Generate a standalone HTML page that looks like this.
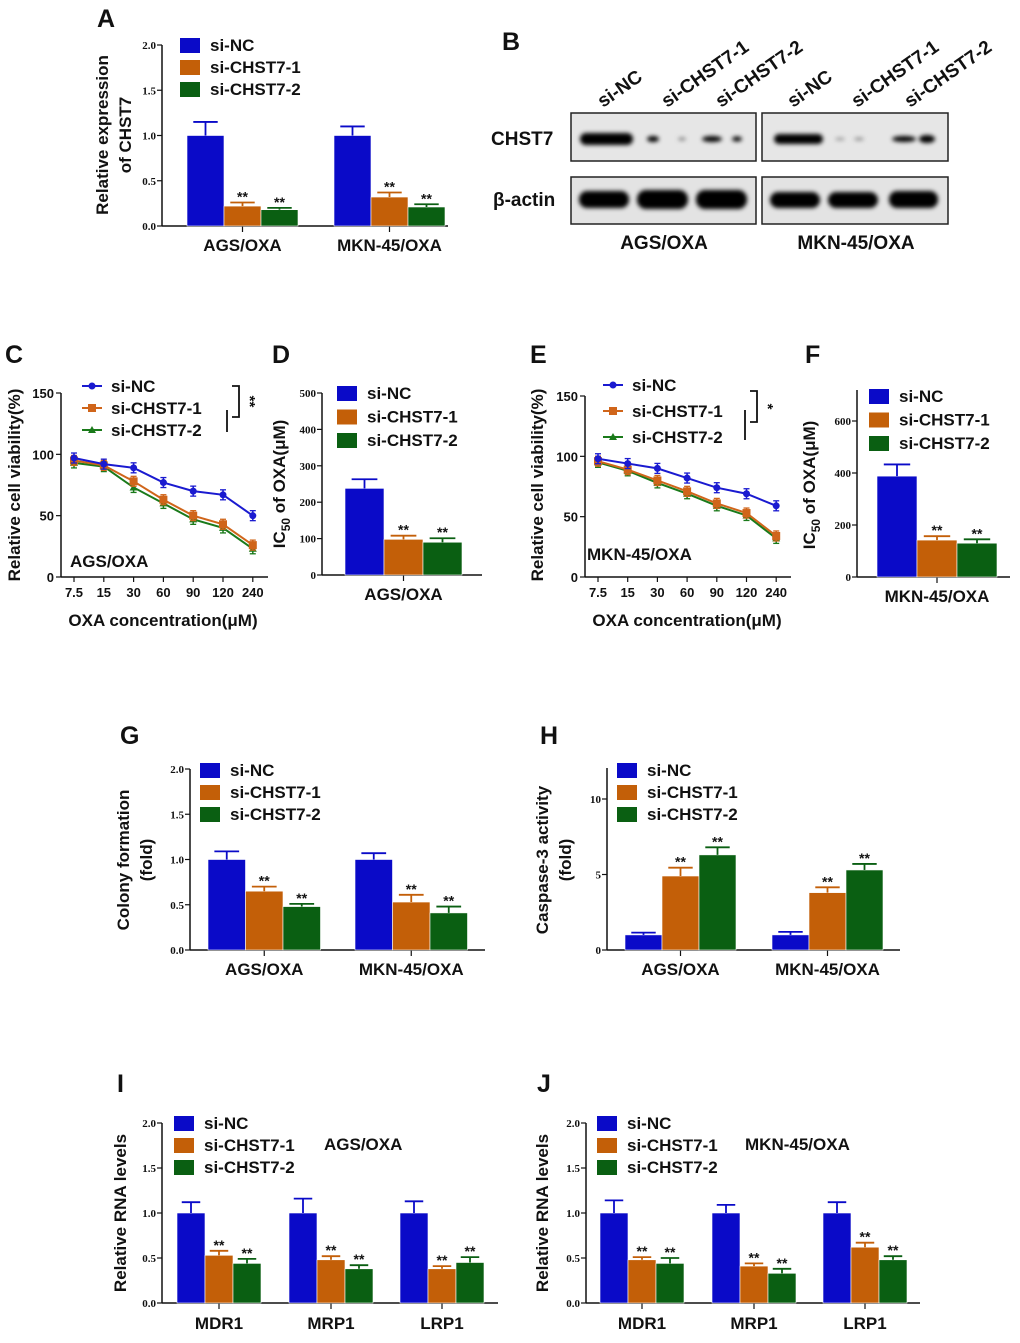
<!DOCTYPE html>
<html><head><meta charset="utf-8">
<style>
html,body{margin:0;padding:0;background:#fff;}
svg{display:block;}
text{font-family:"Liberation Sans",Arial,sans-serif;font-weight:bold;fill:#111;}
.tick{font-family:"Liberation Serif",serif;}
</style></head>
<body>
<svg id="fig" width="1020" height="1343" viewBox="0 0 1020 1343" xmlns="http://www.w3.org/2000/svg">
<defs>
<filter id="blur" x="-20%" y="-60%" width="140%" height="220%"><feGaussianBlur stdDeviation="2.2"/></filter>
</defs>
<g id="static">
<text x="97" y="27" font-size="25">A</text>
<text x="502" y="50" font-size="25">B</text>
<text x="5" y="363" font-size="25">C</text>
<text x="272" y="363" font-size="25">D</text>
<text x="530" y="363" font-size="25">E</text>
<text x="805" y="363" font-size="25">F</text>
<text x="120" y="744" font-size="25">G</text>
<text x="540" y="744" font-size="25">H</text>
<text x="117" y="1092" font-size="25">I</text>
<text x="537" y="1092" font-size="25">J</text>

<g>
<text transform="translate(603,108) rotate(-35)" font-size="19">si-NC</text>
<text transform="translate(667,108) rotate(-35)" font-size="19">si-CHST7-1</text>
<text transform="translate(721,108) rotate(-35)" font-size="19">si-CHST7-2</text>
<text transform="translate(793,108) rotate(-35)" font-size="19">si-NC</text>
<text transform="translate(857,108) rotate(-35)" font-size="19">si-CHST7-1</text>
<text transform="translate(910,108) rotate(-35)" font-size="19">si-CHST7-2</text>
<text x="491" y="145" font-size="19">CHST7</text>
<text x="493" y="206" font-size="19">β-actin</text>
<rect x="571" y="113" width="185" height="48" fill="#e6e6e6" stroke="#222" stroke-width="1.5"/>
<rect x="762" y="113" width="186" height="48" fill="#e6e6e6" stroke="#222" stroke-width="1.5"/>
<rect x="571" y="177" width="185" height="47" fill="#e3e3e3" stroke="#222" stroke-width="1.5"/>
<rect x="762" y="177" width="186" height="47" fill="#e3e3e3" stroke="#222" stroke-width="1.5"/>
<g filter="url(#blur)" fill="#000">
<rect x="580" y="133" width="53" height="12" rx="6"/>
<ellipse cx="653" cy="139" rx="6" ry="3"/>
<ellipse cx="682" cy="139" rx="4" ry="1.5" fill="#777"/>
<ellipse cx="712" cy="139" rx="10" ry="3"/>
<ellipse cx="737" cy="139" rx="5" ry="2.5"/>
<rect x="774" y="134" width="49" height="10" rx="5"/>
<ellipse cx="840" cy="139" rx="5" ry="1.5" fill="#999"/>
<ellipse cx="859" cy="139" rx="5" ry="1.5" fill="#888"/>
<ellipse cx="904" cy="139" rx="12" ry="3"/>
<ellipse cx="927" cy="139" rx="8" ry="4"/>
<rect x="579" y="191" width="50" height="17" rx="8"/>
<rect x="637" y="190" width="51" height="19" rx="9"/>
<rect x="696" y="190" width="51" height="19" rx="9"/>
<rect x="770" y="192" width="50" height="16" rx="8"/>
<rect x="828" y="192" width="50" height="16" rx="8"/>
<rect x="889" y="191" width="49" height="17" rx="8"/>
</g>
<text x="664" y="249" font-size="19" text-anchor="middle">AGS/OXA</text>
<text x="856" y="249" font-size="19" text-anchor="middle">MKN-45/OXA</text>
</g>
</g>
<g id="charts"></g>
</svg>
<script>
const seriesNames = ['si-NC','si-CHST7-1','si-CHST7-2'];
const barColors = ['#0a0ac8','#c35f08','#0a5f12'];

const aCats = ['AGS/OXA','MKN-45/OXA'];
const aNC = [1.0,1.0], aS1 = [0.22,0.32], aS2 = [0.18,0.21];
const aErrNC = [0.15,0.10], aErrS1 = [0.04,0.05], aErrS2 = [0.02,0.03];
const aTicks = [0,0.5,1.0,1.5,2.0], aTickLabels = ['0.0','0.5','1.0','1.5','2.0'];

const dCats = ['AGS/OXA'];
const dNC = [238], dS1 = [98], dS2 = [90];
const dErrNC = [25], dErrS1 = [10], dErrS2 = [11];
const dTicks = [0,100,200,300,400,500], dTickLabels = ['0','100','200','300','400','500'];

const fCats = ['MKN-45/OXA'];
const fNC = [388], fS1 = [142], fS2 = [130];
const fErrNC = [45], fErrS1 = [15], fErrS2 = [15];
const fTicks = [0,200,400,600], fTickLabels = ['0','200','400','600'];

const gCats = ['AGS/OXA','MKN-45/OXA'];
const gNC = [1.0,1.0], gS1 = [0.65,0.53], gS2 = [0.48,0.41];
const gErrNC = [0.09,0.07], gErrS1 = [0.05,0.08], gErrS2 = [0.03,0.07];

const hCats = ['AGS/OXA','MKN-45/OXA'];
const hNC = [1.0,1.0], hS1 = [4.9,3.8], hS2 = [6.3,5.3];
const hErrNC = [0.15,0.2], hErrS1 = [0.55,0.35], hErrS2 = [0.5,0.4];
const hTicks = [0,5,10], hTickLabels = ['0','5','10'];

const iCats = ['MDR1','MRP1','LRP1'];
const iNC = [1.0,1.0,1.0], iS1 = [0.53,0.48,0.38], iS2 = [0.44,0.38,0.45];
const iErrNC = [0.12,0.16,0.13], iErrS1 = [0.05,0.04,0.03], iErrS2 = [0.05,0.04,0.06];

const jCats = ['MDR1','MRP1','LRP1'];
const jNC = [1.0,1.0,1.0], jS1 = [0.48,0.41,0.62], jS2 = [0.44,0.33,0.48];
const jErrNC = [0.14,0.09,0.12], jErrS1 = [0.03,0.03,0.05], jErrS2 = [0.06,0.05,0.04];

const lineCats = ['7.5','15','30','60','90','120','240'];
const cNC = [97,92,89,77,70,67,50];
const cS1 = [95,91,78,63,50,43,26];
const cS2 = [93,90,73,60,47,40,23];
const eNC = [98,94,90,82,74,69,59];
const eS1 = [96,89,80,71,61,53,34];
const eS2 = [95,88,78,69,59,51,32];
const lineTicks = [0,50,100,150], lineTickLabels = ['0','50','100','150'];

const NS = 'http://www.w3.org/2000/svg';
const root = document.getElementById('charts');
function mk(tag, attrs, parent){
  const e = document.createElementNS(NS, tag);
  for (const k in attrs) e.setAttribute(k, attrs[k]);
  (parent||root).appendChild(e);
  return e;
}
function txt(parent, x, y, s, size, anchor, extra){
  const t = mk('text', Object.assign({x:x, y:y, 'font-size':size, 'text-anchor':anchor||'start'}, extra||{}), parent);
  t.textContent = s;
  return t;
}

function barChart(o){
  const g = mk('g', {});
  
  
  const yS = v => o.y0 - (v / o.vmax) * (o.y0 - o.yTopVal);
  const ya = mk('line', {x1:o.ax, y1:o.y0, x2:o.ax, y2:o.axTop, stroke:'#111', 'stroke-width':1.5}, g);
  
  
  const xa = mk('line', {x1:o.ax, y1:o.y0, x2:o.xEnd, y2:o.y0, stroke:'#111', 'stroke-width':1.5}, g);
  
  
  o.ticks.forEach((v,i) => {
    const y = yS(v);
    mk('line', {x1:o.ax-5, y1:y, x2:o.ax, y2:y, stroke:'#111', 'stroke-width':1.2}, g);
    const t = txt(g, o.ax-6, y+4, o.tickLabels[i], 11, 'end', {class:'tick'});
    
    
  });
  o.cats.forEach((c, ci) => {
    const x0 = o.starts[ci];
    const cx = x0 + o.bw * 1.5;
    mk('line', {x1:cx, y1:o.y0, x2:cx, y2:o.y0+6, stroke:'#111', 'stroke-width':1.2}, g);
    const t = txt(g, cx, o.y0 + o.catDy, c, 17, 'middle');
    
    
    o.series.forEach((s, si) => {
      const v = s[ci], e = o.errs[si][ci];
      const bx = x0 + si * o.bw;
      const r = mk('rect', {x:bx, y:yS(v), width:o.bw, height:o.y0 - yS(v), fill:barColors[si], stroke:'#fff', 'stroke-width':0.6}, g);
      
      
      const bcx = bx + o.bw/2, ye = yS(v + e);
      mk('line', {x1:bcx, y1:yS(v), x2:bcx, y2:ye, stroke:barColors[si], 'stroke-width':1.8}, g);
      mk('line', {x1:bcx - o.bw*0.33, y1:ye, x2:bcx + o.bw*0.33, y2:ye, stroke:barColors[si], 'stroke-width':1.8}, g);
      if (si > 0) {
        const st = txt(g, bcx, ye - 1, '**', 14, 'middle');
        
        
      }
    });
  });
  seriesNames.forEach((n, si) => {
    const ly = o.legY + si * o.legDy;
    const r = mk('rect', {x:o.legX, y:ly - 7, width:20, height:15, fill:barColors[si]}, g);
    
    
    const t = txt(g, o.legX + 30, ly + 6, n, 17, 'start');
    
    
  });
  o.yTitle.forEach((line, li) => {
    const t = txt(g, 0, 0, '', 17, 'middle', {transform:'translate(' + (o.yTitleX + li*23) + ',' + o.yTitleY + ') rotate(-90)'});
    if (line === 'IC50') {
      t.appendChild(document.createTextNode('IC'));
      const ts = mk('tspan', {'font-size':12, dy:5}, t); ts.textContent = '50';
      const ts2 = mk('tspan', {dy:-5}, t); ts2.textContent = ' of OXA(μM)';
    } else t.textContent = line;
    
    
  });
  return g;
}

function lineChart(o){
  const g = mk('g', {});
  
  
  const yS = v => o.y0 - (v / 150) * (o.y0 - o.y150);
  const xS = i => o.x0 + i * o.dx;
  const ya = mk('line', {x1:o.ax, y1:o.y0, x2:o.ax, y2:o.y150, stroke:'#111', 'stroke-width':1.5}, g);
  
  
  const xa = mk('line', {x1:o.ax, y1:o.y0, x2:o.xEnd, y2:o.y0, stroke:'#111', 'stroke-width':1.5}, g);
  
  
  lineTicks.forEach((v,i) => {
    const y = yS(v);
    mk('line', {x1:o.ax-5, y1:y, x2:o.ax, y2:y, stroke:'#111', 'stroke-width':1.2}, g);
    const t = txt(g, o.ax-7, y+5, lineTickLabels[i], 13, 'end');
    
    
  });
  lineCats.forEach((c,i) => {
    const x = xS(i);
    mk('line', {x1:x, y1:o.y0, x2:x, y2:o.y0+5, stroke:'#111', 'stroke-width':1.2}, g);
    const t = txt(g, x, o.y0 + 20, c, 13, 'middle');
    
    
  });
  const cols = ['#1a1ad0','#d0651a','#1a7a1a'];
  function marker(si, x, y, par){
    let m;
    if (si === 0) m = mk('circle', {cx:x, cy:y, r:3.5, fill:cols[0]}, par);
    else if (si === 1) m = mk('rect', {x:x-4, y:y-4, width:8, height:8, fill:cols[1]}, par);
    else m = mk('polygon', {points:(x)+','+(y-4)+' '+(x+4)+','+(y+3)+' '+(x-4)+','+(y+3), fill:cols[2]}, par);
    return m;
  }
  o.series.slice().reverse().forEach((s, ri) => {
    const si = 2 - ri;
    const pts = s.map((v,i) => xS(i) + ',' + yS(v)).join(' ');
    const pl = mk('polyline', {points:pts, fill:'none', stroke:cols[si], 'stroke-width':2}, g);
    
    
    s.forEach((v,i) => {
      const x = xS(i), y = yS(v);
      mk('line', {x1:x, y1:y-5, x2:x, y2:y+5, stroke:cols[si], 'stroke-width':1.5}, g);
      mk('line', {x1:x-3, y1:y-5, x2:x+3, y2:y-5, stroke:cols[si], 'stroke-width':1.3}, g);
      mk('line', {x1:x-3, y1:y+5, x2:x+3, y2:y+5, stroke:cols[si], 'stroke-width':1.3}, g);
      const m = marker(si, x, y, g);
      
      
    });
  });
  seriesNames.forEach((n, si) => {
    const ly = o.legY[si];
    mk('line', {x1:o.legX, y1:ly, x2:o.legX+20, y2:ly, stroke:cols[si], 'stroke-width':2}, g);
    marker(si, o.legX+10, ly, g);
    const t = txt(g, o.legX + 29, ly + 6, n, 17, 'start');
    
    
  });
  const b = o.br;
  mk('polyline', {points:(b.x-7)+','+b.y1+' '+b.x+','+b.y1+' '+b.x+','+b.y2+' '+(b.x-7)+','+b.y2, fill:'none', stroke:'#111', 'stroke-width':1.8}, g);
  mk('line', {x1:b.x-12, y1:b.y3, x2:b.x-12, y2:b.y4, stroke:'#111', 'stroke-width':1.8}, g);
  const st = txt(g, 0, 0, b.mark, 15, 'middle', {transform:'translate(' + (b.x+6) + ',' + ((b.y1+b.y2)/2) + ') rotate(90)'});
  
  
  const inl = txt(g, o.inX, o.inY, o.inLabel, 17, 'start');
  
  
  const xt = txt(g, o.xTitleX, o.y0 + 49, 'OXA concentration(μM)', 17, 'middle');
  
  
  const yt = txt(g, 0, 0, 'Relative cell viability(%)', 17, 'middle', {transform:'translate(' + o.yTitleX + ',485) rotate(-90)'});
  
  
}

barChart({name:'chart-a', ax:162, y0:226, yTopVal:45, vmax:2, axTop:45, xEnd:448, ticks:aTicks, tickLabels:aTickLabels,
  cats:aCats, starts:[187,334], bw:37, series:[aNC,aS1,aS2], errs:[aErrNC,aErrS1,aErrS2], catDy:25,
  legX:180, legY:45, legDy:22, yTitle:['Relative expression','of CHST7'], yTitleX:108, yTitleY:135});

barChart({name:'chart-d', ax:322, y0:575, yTopVal:393, vmax:500, axTop:393, xEnd:482, ticks:dTicks, tickLabels:dTickLabels,
  cats:dCats, starts:[345], bw:39, series:[dNC,dS1,dS2], errs:[dErrNC,dErrS1,dErrS2], catDy:25,
  legX:337, legY:393, legDy:23.5, yTitle:['IC50'], yTitleX:285, yTitleY:484});

barChart({name:'chart-f', ax:857, y0:577, yTopVal:421, vmax:600, axTop:390, xEnd:1010, ticks:fTicks, tickLabels:fTickLabels,
  cats:fCats, starts:[877], bw:40, series:[fNC,fS1,fS2], errs:[fErrNC,fErrS1,fErrS2], catDy:25,
  legX:869, legY:396, legDy:23.5, yTitle:['IC50'], yTitleX:815, yTitleY:485});

barChart({name:'chart-g', ax:190, y0:950, yTopVal:769, vmax:2, axTop:769, xEnd:485, ticks:aTicks, tickLabels:aTickLabels,
  cats:gCats, starts:[208,355], bw:37.5, series:[gNC,gS1,gS2], errs:[gErrNC,gErrS1,gErrS2], catDy:25,
  legX:200, legY:770, legDy:22, yTitle:['Colony formation','(fold)'], yTitleX:129, yTitleY:860});

barChart({name:'chart-h', ax:607, y0:950, yTopVal:799, vmax:10, axTop:768, xEnd:900, ticks:hTicks, tickLabels:hTickLabels,
  cats:hCats, starts:[625,772], bw:37, series:[hNC,hS1,hS2], errs:[hErrNC,hErrS1,hErrS2], catDy:25,
  legX:617, legY:770, legDy:22, yTitle:['Caspase-3 activity','(fold)'], yTitleX:548, yTitleY:860});

barChart({name:'chart-i', ax:162, y0:1303, yTopVal:1123, vmax:2, axTop:1123, xEnd:498, ticks:aTicks, tickLabels:aTickLabels,
  cats:iCats, starts:[177,289,400], bw:28, series:[iNC,iS1,iS2], errs:[iErrNC,iErrS1,iErrS2], catDy:26,
  legX:174, legY:1123, legDy:22, yTitle:['Relative RNA levels'], yTitleX:126, yTitleY:1213});

barChart({name:'chart-j', ax:586, y0:1303, yTopVal:1123, vmax:2, axTop:1123, xEnd:920, ticks:aTicks, tickLabels:aTickLabels,
  cats:jCats, starts:[600,712,823], bw:28, series:[jNC,jS1,jS2], errs:[jErrNC,jErrS1,jErrS2], catDy:26,
  legX:597, legY:1123, legDy:22, yTitle:['Relative RNA levels'], yTitleX:548, yTitleY:1213});

const tI = txt(root, 324, 1150, 'AGS/OXA', 17, 'start');


const tJ = txt(root, 745, 1150, 'MKN-45/OXA', 17, 'start');



lineChart({name:'chart-c', ax:61, y0:577, y150:393, x0:74, dx:29.8, xEnd:268, series:[cNC,cS1,cS2],
  legX:82, legY:[386,408,430], br:{x:239, y1:386, y2:417, y3:410, y4:432, mark:'**'},
  inX:70, inY:567, inLabel:'AGS/OXA', xTitleX:163, yTitleX:20});

lineChart({name:'chart-e', ax:585, y0:577, y150:396, x0:598, dx:29.7, xEnd:791, series:[eNC,eS1,eS2],
  legX:603, legY:[385,411,437], br:{x:757, y1:391, y2:422, y3:410, y4:440, mark:'*'},
  inX:587, inY:560, inLabel:'MKN-45/OXA', xTitleX:687, yTitleX:543});
</script>
</body></html>
